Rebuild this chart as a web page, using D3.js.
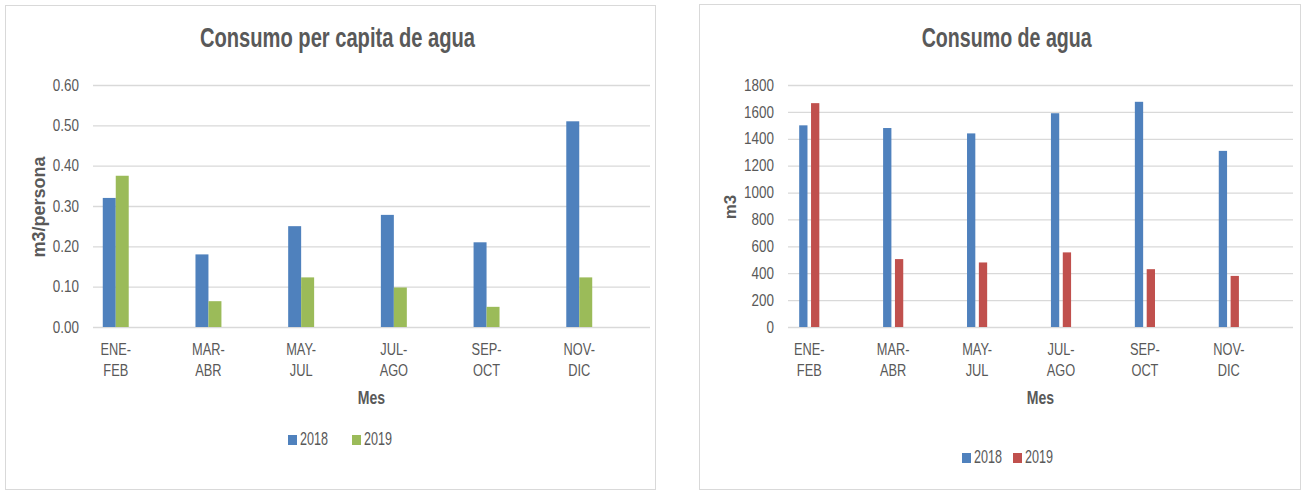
<!DOCTYPE html>
<html lang="en">
<head>
   <meta charset="UTF-8">
   <title>Consumo de agua</title>
   <style>
     body { margin: 0; background: #ffffff; }
     text { fill: #595959; }
   </style>
</head>
<body>
   <script src="https://d3js.org/d3.v7.min.js"></script>
   <script>
     // datos
     const meses = ["ENE-FEB", "MAR-ABR", "MAY-JUL", "JUL-AGO", "SEP-OCT", "NOV-DIC"];
     const anios = ["2018", "2019"];
     const perCapita2018 = [0.32, 0.18, 0.25, 0.278, 0.21, 0.51];
     const perCapita2019 = [0.375, 0.064, 0.123, 0.098, 0.05, 0.123];
     const consumo2018 = [1500, 1480, 1440, 1590, 1675, 1310];
     const consumo2019 = [1665, 505, 480, 555, 430, 380];
     const perCapitaTicks = [0, 0.1, 0.2, 0.3, 0.4, 0.5, 0.6];
     const consumoTicks = [0, 200, 400, 600, 800, 1000, 1200, 1400, 1600, 1800];

     const sans = "'Liberation Sans', Arial, sans-serif";

     const svg = d3.select('body').append('svg')
          .attr('width', 1308)
          .attr('height', 493);

     // la imagen original esta comprimida en horizontal
     function squeeze(sel, k) {
          sel.each(function () {
               const w = this.getComputedTextLength();
               d3.select(this)
                    .attr('textLength', w * k)
                    .attr('lengthAdjust', 'spacingAndGlyphs');
          });
     }

     function createChart(o) {
          const g = svg.append('g');

          g.append('rect')
               .attr('x', o.frame[0]).attr('y', o.frame[1])
               .attr('width', o.frame[2]).attr('height', o.frame[3])
               .attr('fill', '#fff')
               .attr('stroke', '#d9d9d9');

          g.append('text')
               .attr('x', o.titleX).attr('y', 47)
               .attr('text-anchor', 'middle')
               .attr('font-family', sans)
               .attr('font-weight', 'bold')
               .attr('font-size', 28)
               .attr('textLength', o.titleLen)
               .attr('lengthAdjust', 'spacingAndGlyphs')
               .text(o.title);

          const y = d3.scaleLinear()
               .domain([0, d3.max(o.ticks)])
               .range([327, 85]);

          const x0 = d3.scaleBand()
               .domain(meses)
               .range(o.bandRange)
               .paddingInner(o.pad)
               .paddingOuter(o.pad / 2);

          const x1 = d3.scaleBand()
               .domain(anios)
               .range([0, x0.bandwidth()])
               .paddingInner(o.subPad);

          const color = d3.scaleOrdinal().domain(anios).range(o.colors);

          // grid + eje y
          g.append('g')
               .attr('transform', `translate(${o.gridX[0]},0)`)
               .call(d3.axisLeft(y).tickValues(o.ticks).tickFormat(o.fmt)
                    .tickSize(-(o.gridX[1] - o.gridX[0])).tickPadding(14))
               .call(a => a.select('.domain').remove())
               .call(a => a.selectAll('line').attr('stroke', '#d9d9d9').attr('stroke-width', 1.3))
               .call(a => a.selectAll('text')
                    .attr('font-family', sans).attr('font-size', 16).attr('fill', '#595959')
                    .call(squeeze, 0.84));

          const rows = meses.map((m, i) => ({ mes: m, vals: [o.s1[i], o.s2[i]] }));

          g.append('g').selectAll('g')
               .data(rows)
               .join('g')
               .attr('transform', d => `translate(${x0(d.mes)},0)`)
               .selectAll('rect')
               .data(d => d.vals.map((v, j) => ({ anio: anios[j], v })))
               .join('rect')
               .attr('x', d => x1(d.anio))
               .attr('y', d => y(d.v))
               .attr('width', x1.bandwidth())
               .attr('height', d => y(0) - y(d.v))
               .attr('fill', d => color(d.anio));

          // etiquetas eje x en dos lineas
          const xl = g.append('g')
               .attr('transform', 'translate(0,327)')
               .call(d3.axisBottom(x0).tickSize(0).tickFormat(''))
               .call(a => a.select('.domain').remove());
          xl.selectAll('.tick').append('g')
               .selectAll('text')
               .data(d => { const p = d.split('-'); return [p[0] + '-', p[1]]; })
               .join('text')
               .attr('text-anchor', 'middle')
               .attr('font-family', sans)
               .attr('font-size', 16)
               .attr('fill', '#595959')
               .attr('x', 0)
               .attr('y', (d, i) => 28 + i * 21)
               .text(d => d)
               .call(squeeze, 0.8);

          g.append('text')
               .attr('x', (o.gridX[0] + o.gridX[1]) / 2).attr('y', 404)
               .attr('text-anchor', 'middle')
               .attr('font-family', sans)
               .attr('font-weight', 'bold')
               .attr('font-size', 18)
               .text('Mes')
               .call(squeeze, 0.78);

          g.append('text')
               .attr('transform', `translate(${o.yTitleX},207) rotate(-90)`)
               .attr('text-anchor', 'middle')
               .attr('font-family', sans)
               .attr('font-weight', 'bold')
               .attr('font-size', o.yTitleSize)
               .text(o.yTitle);

          // leyenda
          const leg = g.append('g').selectAll('g')
               .data(anios)
               .join('g')
               .attr('transform', (d, i) => `translate(${o.legendX + i * o.legendStep},${o.legendY})`);
          leg.append('rect')
               .attr('x', 0).attr('y', -10)
               .attr('width', 9).attr('height', 10)
               .attr('fill', d => color(d));
          leg.append('text')
               .attr('x', 12).attr('y', 0)
               .attr('font-family', sans)
               .attr('font-size', 19)
               .attr('textLength', 28)
               .attr('lengthAdjust', 'spacingAndGlyphs')
               .text(d => d);
     }

     createChart({
          frame: [5.5, 5.5, 650, 484],
          title: 'Consumo per capita de agua',
          titleX: 337.5, titleLen: 275,
          ticks: perCapitaTicks, fmt: d3.format('.2f'),
          gridX: [93, 650],
          bandRange: [69.4, 625.6], pad: 0.72, subPad: 0,
          s1: perCapita2018, s2: perCapita2019,
          colors: ['#4f81bd', '#9bbb59'],
          yTitle: 'm3/persona', yTitleX: 45, yTitleSize: 18,
          legendX: 288, legendStep: 64, legendY: 445
     });

     createChart({
          frame: [699.5, 4.5, 601, 485],
          title: 'Consumo de agua',
          titleX: 1006.7, titleLen: 170,
          ticks: consumoTicks, fmt: d3.format('d'),
          gridX: [788, 1293],
          bandRange: [767.3, 1270.8], pad: 0.76, subPad: 0.3,
          s1: consumo2018, s2: consumo2019,
          colors: ['#4f81bd', '#c0504d'],
          yTitle: 'm3', yTitleX: 736, yTitleSize: 17,
          legendX: 962, legendStep: 51, legendY: 463
     });
   </script>
</body>
</html>
